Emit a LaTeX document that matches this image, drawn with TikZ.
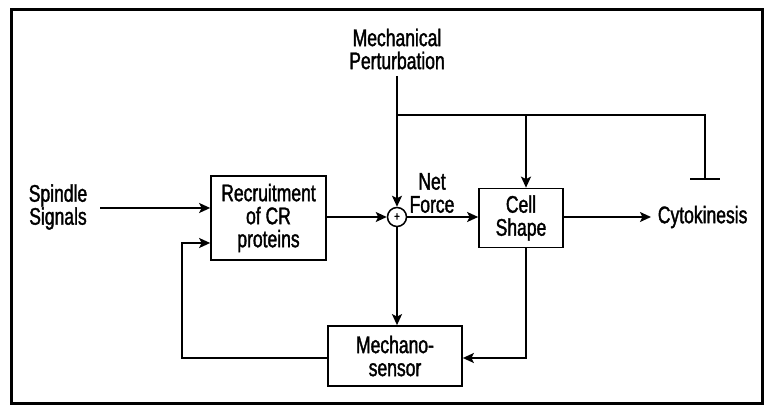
\documentclass[tikz,border=0pt]{standalone}
\usepackage{fontspec}
\setmainfont{Liberation Sans}[FakeStretch=0.73,FakeBold=1.5]
\usetikzlibrary{arrows.meta}
\begin{document}
\begin{tikzpicture}[x=1pt,y=-1pt,
  line width=1.7pt,
  box/.style={draw,rectangle,inner sep=0pt,align=center,font=\fontsize{24}{23}\selectfont},
  lbl/.style={align=center,inner sep=0pt,font=\fontsize{24}{23}\selectfont},
  arr/.style={-{Stealth[length=11pt,width=10pt,inset=2.5pt]}}]
\useasboundingbox (0,0) rectangle (765,411);
\draw[line width=3pt] (11,10) rectangle (762,403);
\node[box,minimum width=115pt,minimum height=84pt] (rec) at (268.5,218) {Recruitment\\of CR\\proteins};
\node[box,minimum width=84pt,minimum height=59pt] (cell) at (521,218) {Cell\\Shape};
\node[box,minimum width=134pt,minimum height=60pt] (mech) at (395,356) {Mechano-\\sensor};
\node[draw,circle,minimum size=19pt,inner sep=0pt,line width=1.5pt] (sum) at (397,217) {};
\node[font=\fontsize{13}{13}\selectfont,inner sep=0pt] at (sum.center) {+};
\node[lbl] (pert) at (397,49) {Mechanical\\Perturbation};
\node[lbl] (spin) at (58,207) {Spindle\\Signals};
\node[lbl] (net) at (432,193) {Net\\Force};
\node[lbl,anchor=west] (cyto) at (657,217) {Cytokinesis};
\coordinate (ptop) at (397,76);
\coordinate (j1) at (397,115);
\coordinate (j2) at (526,115);
\coordinate (j3) at (705,115);
\coordinate (bar) at (705,179);
\draw[arr] (ptop) -- (sum);
\draw (j1) -- (j3) -- (bar);
\draw (bar) ++(-15,0) -- ++(30,0);
\draw[arr] (j2) -- (j2 |- cell.north);
\draw[arr] (100,208) -- (rec.west |- 0,208);
\draw[arr] (rec.east |- sum) -- (sum);
\draw[arr] (sum) -- (cell.west |- sum);
\draw[arr,shorten >=6pt] (cell.east |- sum) -- (cyto.west);
\draw[arr] (sum) -- (mech.north -| sum);
\draw[arr] (526,248) |- (mech.east |- 0,358);
\draw[arr] (mech.west |- 0,358) -| (182,243) -- (rec.west |- 0,243);
\end{tikzpicture}
\end{document}
